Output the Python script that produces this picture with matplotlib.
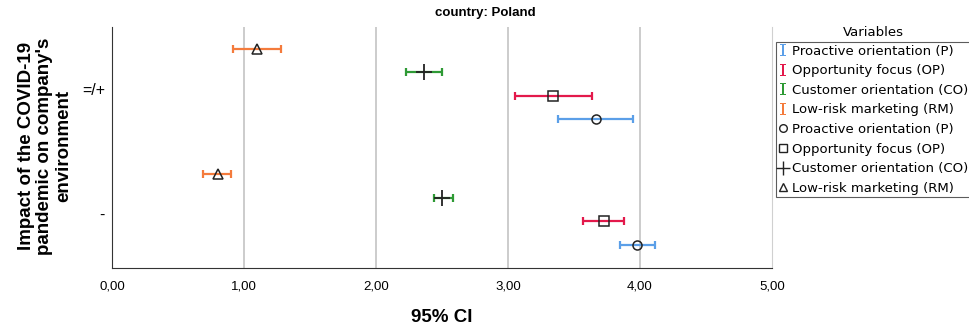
import numpy as np
import matplotlib
matplotlib.use("Agg")
import matplotlib.pyplot as plt
from matplotlib.lines import Line2D

plt.rcParams['font.family'] = ['Liberation Sans', 'DejaVu Sans']

# data (mean, lower CI, upper CI) for "=/+" and "-"
groups = ["=/+", "-"]
variables = ["Proactive orientation (P)", "Opportunity focus (OP)",
             "Customer orientation (CO)", "Low-risk marketing (RM)"]
p_mean = [3.67, 3.98]
p_low = [3.38, 3.85]
p_high = [3.95, 4.11]
op_mean = [3.34, 3.73]
op_low = [3.05, 3.57]
op_high = [3.64, 3.88]
co_mean = [2.36, 2.50]
co_low = [2.23, 2.44]
co_high = [2.50, 2.58]
rm_mean = [1.10, 0.80]
rm_low = [0.92, 0.69]
rm_high = [1.28, 0.90]

colors = ["#5b9fe8", "#e3194b", "#2e9a35", "#f47b3c"]
markers = ["o", "s", "+", "^"]
msizes = [6.5, 7, 11, 6.5]
offsets = [0.56, 0.186, -0.186, -0.56]  # P at the bottom of each cluster

means = [p_mean, op_mean, co_mean, rm_mean]
lows = [p_low, op_low, co_low, rm_low]
highs = [p_high, op_high, co_high, rm_high]

fig = plt.figure(figsize=(9.7, 3.3), dpi=100)
ax = fig.add_axes([112/970, 1-268/330, 660/970, 241/330])

ypos = np.arange(len(groups))
for i in range(4):
    m = np.array(means[i])
    lo = m - np.array(lows[i])
    hi = np.array(highs[i]) - m
    y = ypos + offsets[i] * 0.5
    ax.errorbar(m, y, xerr=[lo, hi], fmt='none', ecolor=colors[i],
                elinewidth=1.6, capsize=3, capthick=1.6, zorder=2)
    if markers[i] == "+":
        ax.plot(m, y, linestyle='none', marker='+', markersize=msizes[i],
                color='#222222', markeredgewidth=1.3, zorder=3)
    else:
        ax.plot(m, y, linestyle='none', marker=markers[i], markersize=msizes[i],
                markerfacecolor='none', markeredgecolor='#222222',
                markeredgewidth=1.1, zorder=3)

ax.set_xlim(0, 5)
ax.set_ylim(1.465, -0.455)
ax.set_xticks(np.arange(0, 6))
ax.xaxis.set_major_formatter(plt.FuncFormatter(lambda v, p: ("%.2f" % v).replace(".", ",")))
ax.tick_params(axis='x', labelsize=9.5)
ax.set_yticks(ypos + 0.035)
ax.set_yticklabels(groups, fontsize=11.5)
ax.tick_params(length=0, pad=9)
ax.tick_params(axis='y', pad=5)
for g in [1, 2, 3, 4]:
    ax.axvline(g, color='#c8c8c8', linewidth=1.3, zorder=1)
ax.spines['top'].set_visible(False)
ax.spines['right'].set_color('#d0d0d0')
ax.spines['right'].set_linewidth(0.8)
for s in ['left', 'bottom']:
    ax.spines[s].set_color('#333333')

ax.set_xlabel("95% CI", fontsize=13.5, fontweight='bold', labelpad=12)
fig.text(45/970, 1-146/330, "Impact of the COVID-19\npandemic on company's\nenvironment",
         rotation=90, ha='center', va='center', fontsize=13.5, fontweight='bold',
         linespacing=1.15)
fig.text(0.5, 1-13/330, "country: Poland", ha='center', va='center',
         fontsize=9.5, fontweight='bold')

# legend
handles = []
for i in range(4):
    handles.append(Line2D([], [], linestyle='none', marker=r'$\mathtt{I}$', markersize=9,
                          color=colors[i], markeredgewidth=0))
for i in range(4):
    if markers[i] == "+":
        handles.append(Line2D([], [], linestyle='none', marker='+', markersize=10,
                              color='#222222', markeredgewidth=1.0))
    else:
        handles.append(Line2D([], [], linestyle='none', marker=markers[i], markersize=5.5,
                              markerfacecolor='none', markeredgecolor='#222222',
                              markeredgewidth=1.0))
labels = variables + variables
fig.text(873/970, 1-33/330, "Variables", ha='center', va='center', fontsize=9.5,
         family='DejaVu Sans')
leg = fig.legend(handles, labels, loc='upper left', bbox_to_anchor=(776/970, 1-42/330),
                 prop={'family': 'DejaVu Sans', 'size': 9.5}, frameon=True,
                 fancybox=False, handlelength=0.6, handletextpad=0.45,
                 labelspacing=0.5, borderpad=0.2, borderaxespad=0,
                 edgecolor='#333333')
leg.get_frame().set_linewidth(0.8)

fig.savefig("out.png", dpi=100)
